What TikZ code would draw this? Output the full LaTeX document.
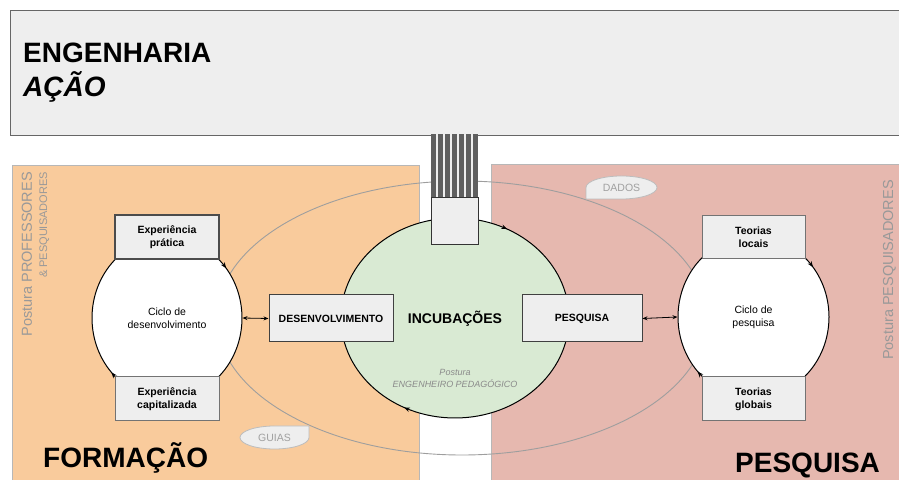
\documentclass[tikz,border=0pt]{standalone}
\usepackage{fontspec}
\setmainfont{Liberation Sans}
\usetikzlibrary{arrows.meta,decorations.markings,shapes.geometric}
\definecolor{boxfill}{HTML}{EEEEEE}
\definecolor{topdraw}{HTML}{666666}
\definecolor{orangebg}{HTML}{F9CB9C}
\definecolor{pinkbg}{HTML}{E6B8AF}
\definecolor{regiondraw}{HTML}{B7B7B7}
\definecolor{greenbg}{HTML}{D9EAD3}
\definecolor{ringgray}{HTML}{9E9E9E}
\definecolor{stripe}{HTML}{5F5F5F}
\definecolor{softtext}{HTML}{999999}
\definecolor{bubdraw}{HTML}{BDBDBD}
\definecolor{bubtext}{HTML}{A0A0A0}
\tikzset{
  region/.style={rectangle, draw=regiondraw, line width=0.8pt, inner sep=0pt, anchor=north west},
  lbox/.style={rectangle, fill=boxfill, line width=1pt, inner sep=0pt, align=center,
    font=\fontsize{10.5}{13}\selectfont\bfseries},
  cycarrows/.style 2 args={postaction={decorate, decoration={markings,
    mark=at position #1 with {\arrowreversed{Stealth[length=6pt,width=4.5pt]}},
    mark=at position #2 with {\arrowreversed{Stealth[length=6pt,width=4.5pt]}}}}},
  cyc/.style={ellipse, fill=white, draw=black, line width=1pt, inner sep=0pt, align=center,
    font=\fontsize{10.5}{13}\selectfont, minimum width=150pt, minimum height=162pt},
  dbl/.style={{Stealth[length=5pt,width=4pt]}-{Stealth[length=5pt,width=4pt]}, line width=0.8pt},
  bubble/.style={fill=boxfill, draw=bubdraw, line width=0.8pt},
  bubtxt/.style={text=bubtext, font=\fontsize{10.5}{12}\selectfont, inner sep=0pt},
  sidebig/.style={rotate=90, anchor=base east, inner sep=0pt, text=softtext, font=\fontsize{14.5}{16}\selectfont},
  sidesmall/.style={rotate=90, anchor=base east, inner sep=0pt, text=softtext, font=\fontsize{11}{13}\selectfont},
  bigtitle/.style={anchor=base west, inner sep=0pt, font=\fontsize{28}{30}\selectfont\bfseries}
}
\begin{document}
\begin{tikzpicture}[x=1pt,y=1pt]
\useasboundingbox (0,0) rectangle (899,479);
\clip (0,0) rectangle (899,479);

% background regions
\node[region, fill=orangebg, minimum width=407pt, minimum height=330pt] (form) at (12,314) {};
\node[region, fill=pinkbg, minimum width=420pt, minimum height=330pt] (pesqbg) at (491,315) {};

% large grey cycle
\draw[ringgray, line width=0.9pt] (462,161) ellipse [x radius=245, y radius=137];

% top box
\node[rectangle, fill=boxfill, draw=topdraw, line width=1.3pt, anchor=north west,
      minimum width=900pt, minimum height=125pt, inner sep=0pt] (top) at (10,469) {};
\node[bigtitle] (eng) at (23,416) {ENGENHARIA};
\node[bigtitle, font=\fontsize{28}{30}\selectfont\bfseries\itshape] (acao) at (23,382) {AÇÃO};

% stripes connecting
\fill[boxfill] (431,345.5) rectangle (478,281);
\foreach \i in {0,...,6} {
  \fill[stripe] ({431+\i*7.017},344.5) rectangle ++(4.9,-64);
}

% incubation ellipse
\node[ellipse, fill=greenbg, draw=black, line width=1pt, minimum width=228pt, minimum height=200pt,
      cycarrows={0.17}{0.672}] (inc) at (455,161) {};
\node[font=\fontsize{14}{16}\selectfont\bfseries, anchor=base, inner sep=0pt] (inct) at (455,155) {INCUBAÇÕES};
\node[align=center, text=softtext!90!black, font=\fontsize{9}{12}\selectfont\itshape, inner sep=0pt] (post) at (455,101)
  {Postura\\ENGENHEIRO PEDAGÓGICO};

% small box at top of incubation
\node[rectangle, fill=boxfill, draw=black!80, line width=1pt, minimum width=47pt, minimum height=47pt, inner sep=0pt]
  (port) at (454.5,257.5) {};

% cycles
\node[cyc, cycarrows={0.108}{0.62}] (cd) at (167,161) {Ciclo de\\desenvolvimento};
\node[cyc, minimum width=151pt, cycarrows={0.108}{0.62}] (cp) at (753.5,162) {Ciclo de\\pesquisa};

% boxes
\node[lbox, draw=black!70, line width=1.6pt, minimum width=104pt, minimum height=44pt] (expp) at (167,242) {Experiência\\prática};
\node[lbox, draw=black!55, minimum width=104pt, minimum height=44pt] (expc) at (167,80) {Experiência\\capitalizada};
\node[lbox, draw=black!55, minimum width=103pt, minimum height=43pt] (teol) at (753.5,241.5) {Teorias\\locais};
\node[lbox, draw=black!55, minimum width=103pt, minimum height=44pt] (teog) at (753.5,80) {Teorias\\globais};
\node[lbox, draw=black!75, minimum width=124pt, minimum height=47pt] (des) at (331,160.5) {DESENVOLVIMENTO};
\node[lbox, draw=black!75, minimum width=120pt, minimum height=47pt] (pq) at (582,160.5) {PESQUISA};

% double arrows
\draw[dbl] (cd.east) -- (des.west);
\draw[dbl] (pq.east) -- (cp.west);

% bubbles
\draw[bubble] (586,280) -- (586,291.5) arc[start angle=180, end angle=-90, x radius=35.5, y radius=11.5] -- cycle;
\node[bubtxt] (dados) at (621.5,291.5) {DADOS};
\draw[bubble] (309,53) -- (309,41.5) arc[start angle=0, end angle=-270, x radius=34.5, y radius=11.5] -- cycle;
\node[bubtxt] (guias) at (274.5,41.5) {GUIAS};

% side texts
\node[sidebig] (pl1) at (32,307) {Postura PROFESSORES};
\node[sidesmall] (pl2) at (47,307) {\& PESQUISADORES};
\node[sidebig] (pr1) at (893,299) {Postura PESQUISADORES};
\node[sidesmall] (pr2) at (907,299) {\& PROFESSORES};

% big titles
\node[bigtitle] (formt) at (43,12) {FORMAÇÃO};
\node[bigtitle] (pesqt) at (735,6) {PESQUISA};
\end{tikzpicture}
\end{document}
